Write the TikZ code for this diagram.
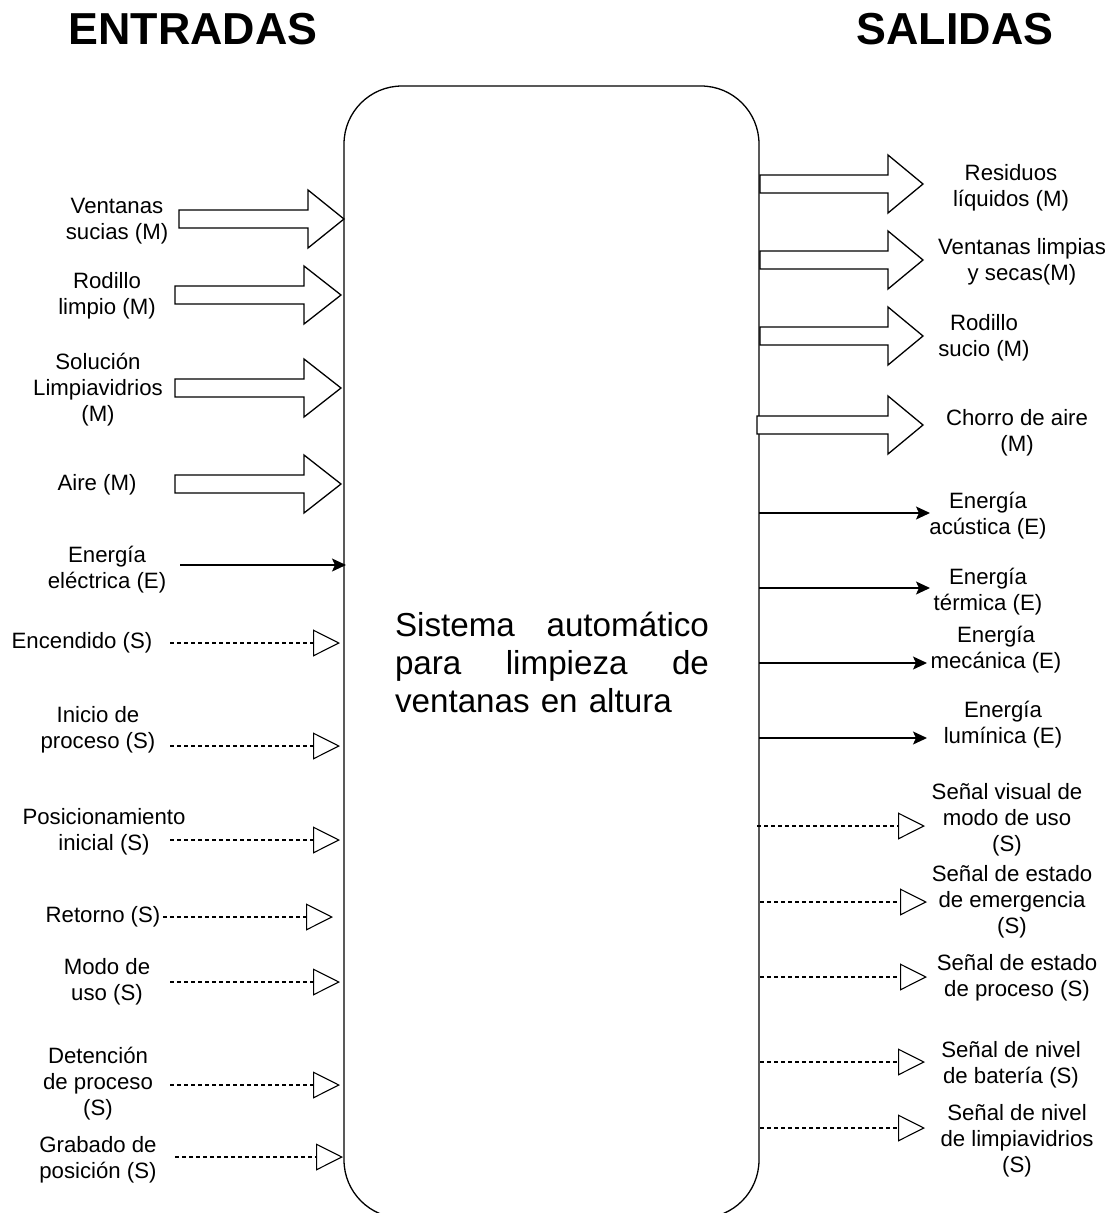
\documentclass[tikz,border=0pt]{standalone}
\usepackage{fontspec}
\setmainfont{Liberation Sans}
\usetikzlibrary{arrows.meta}
\newcommand{\blockarrow}[4]{%
  \draw[blk] (#1,#4-9) -- (#2,#4-9) -- (#2,#4-29) -- (#3,#4) -- (#2,#4+29) -- (#2,#4+9) -- (#1,#4+9) -- cycle;}
\begin{document}
\begin{tikzpicture}[x=1pt,y=-1pt,
  lbl/.style={font=\fontsize{22.2}{26}\selectfont, align=center, inner sep=0pt},
  ttl/.style={font=\fontsize{44.8}{50}\selectfont\bfseries, inner sep=0pt},
  sig/.style={line width=1.2pt, dash pattern=on 4pt off 3pt, -{Triangle[open,length=27pt,width=27pt,line width=1.1pt]}},
  nrg/.style={line width=1.4pt, -{Stealth[length=14pt,width=13pt,inset=3pt]}},
  blk/.style={line width=1.3pt, fill=white, line join=miter},
  sysbox/.style={draw, line width=1.3pt, rounded corners=58pt, minimum width=415pt, minimum height=1132pt, inner sep=0pt}]
\useasboundingbox (0,0) rectangle (1116,1213);
\fill[white] (0,0) rectangle (1116,1213);

% titles
\node[ttl] (tin) at (193,29) {ENTRADAS};
\node[ttl] (tout) at (955,29) {SALIDAS};

% system box
\node[sysbox] (sys) at (551.5,652) {};
\node[font=\fontsize{33.2}{38}\selectfont, text width=314pt, align=left, inner sep=0pt] (systxt) at (552,662)
  {Sistema\hfill automático\\ para\hfill limpieza\hfill de\\ ventanas en altura};

% ---------- inputs: material ----------
\blockarrow{179}{308}{344}{219}
\blockarrow{175}{304}{341}{295}
\blockarrow{175}{304}{341}{388}
\blockarrow{175}{304}{341}{484}
\node[lbl] (i1) at (117,221) {Ventanas\\sucias (M)};
\node[lbl] (i2) at (107,296) {Rodillo\\limpio (M)};
\node[lbl] (i3) at (98,390) {Solución\\Limpiavidrios\\(M)};
\node[lbl] (i4) at (97,485) {Aire (M)};

% ---------- inputs: energy ----------
\node[lbl] (i5) at (107,570) {Energía\\eléctrica (E)};
\coordinate (i5a) at (180,565);
\coordinate (i5b) at (346,565);
\draw[nrg] (i5a) -- (i5b);

% ---------- inputs: signals ----------
\node[lbl] (i6) at (82,643) {Encendido (S)};
\node[lbl] (i7) at (98,730) {Inicio de\\proceso (S)};
\node[lbl] (i8) at (104,832) {Posicionamiento\\inicial (S)};
\node[lbl] (i9) at (103,917) {Retorno (S)};
\node[lbl] (i10) at (107,982) {Modo de\\uso (S)};
\node[lbl] (i11) at (98,1084) {Detención\\de proceso\\(S)};
\node[lbl] (i12) at (98,1160) {Grabado de\\posición (S)};

\coordinate (i6a) at (170,643);  \coordinate (i6b) at (340,643);
\coordinate (i7a) at (170,746);  \coordinate (i7b) at (340,746);
\coordinate (i8a) at (170,840);  \coordinate (i8b) at (340,840);
\coordinate (i9a) at (163,917);  \coordinate (i9b) at (333,917);
\coordinate (i10a) at (170,982); \coordinate (i10b) at (340,982);
\coordinate (i11a) at (170,1085); \coordinate (i11b) at (340,1085);
\coordinate (i12a) at (175,1157); \coordinate (i12b) at (343,1157);
\draw[sig] (i6a) -- (i6b);
\draw[sig] (i7a) -- (i7b);
\draw[sig] (i8a) -- (i8b);
\draw[sig] (i9a) -- (i9b);
\draw[sig] (i10a) -- (i10b);
\draw[sig] (i11a) -- (i11b);
\draw[sig] (i12a) -- (i12b);

% ---------- outputs: material ----------
\blockarrow{760}{888}{923}{184}
\blockarrow{760}{888}{923}{260}
\blockarrow{760}{888}{923}{336}
\blockarrow{757}{888}{923}{425}
\node[lbl] (o1) at (1011,188) {Residuos\\líquidos (M)};
\node[lbl] (o2) at (1022,262) {Ventanas limpias\\y secas(M)};
\node[lbl] (o3) at (984,338) {Rodillo\\sucio (M)};
\node[lbl] (o4) at (1017,433) {Chorro de aire\\(M)};

% ---------- outputs: energy ----------
\node[lbl] (o5) at (988,516) {Energía\\acústica (E)};
\node[lbl] (o6) at (988,592) {Energía\\térmica (E)};
\node[lbl] (o7) at (996,650) {Energía\\mecánica (E)};
\node[lbl] (o8) at (1003,725) {Energía\\lumínica (E)};
\coordinate (o5a) at (759,513); \coordinate (o5b) at (930,513);
\coordinate (o6a) at (759,588); \coordinate (o6b) at (930,588);
\coordinate (o7a) at (759,663); \coordinate (o7b) at (927,663);
\coordinate (o8a) at (759,738); \coordinate (o8b) at (927,738);
\draw[nrg] (o5a) -- (o5b);
\draw[nrg] (o6a) -- (o6b);
\draw[nrg] (o7a) -- (o7b);
\draw[nrg] (o8a) -- (o8b);

% ---------- outputs: signals ----------
\node[lbl] (o9) at (1007,820) {Señal visual de\\modo de uso\\(S)};
\node[lbl] (o10) at (1012,902) {Señal de estado\\de emergencia\\(S)};
\node[lbl] (o11) at (1017,978) {Señal de estado\\de proceso (S)};
\node[lbl] (o12) at (1011,1065) {Señal de nivel\\de batería (S)};
\node[lbl] (o13) at (1017,1141) {Señal de nivel\\de limpiavidrios\\(S)};
\coordinate (o9a) at (757,826);   \coordinate (o9b) at (925,826);
\coordinate (o10a) at (760,902);  \coordinate (o10b) at (927,902);
\coordinate (o11a) at (760,977);  \coordinate (o11b) at (927,977);
\coordinate (o12a) at (760,1062); \coordinate (o12b) at (925,1062);
\coordinate (o13a) at (760,1128); \coordinate (o13b) at (925,1128);
\draw[sig] (o9a) -- (o9b);
\draw[sig] (o10a) -- (o10b);
\draw[sig] (o11a) -- (o11b);
\draw[sig] (o12a) -- (o12b);
\draw[sig] (o13a) -- (o13b);
\end{tikzpicture}
\end{document}
